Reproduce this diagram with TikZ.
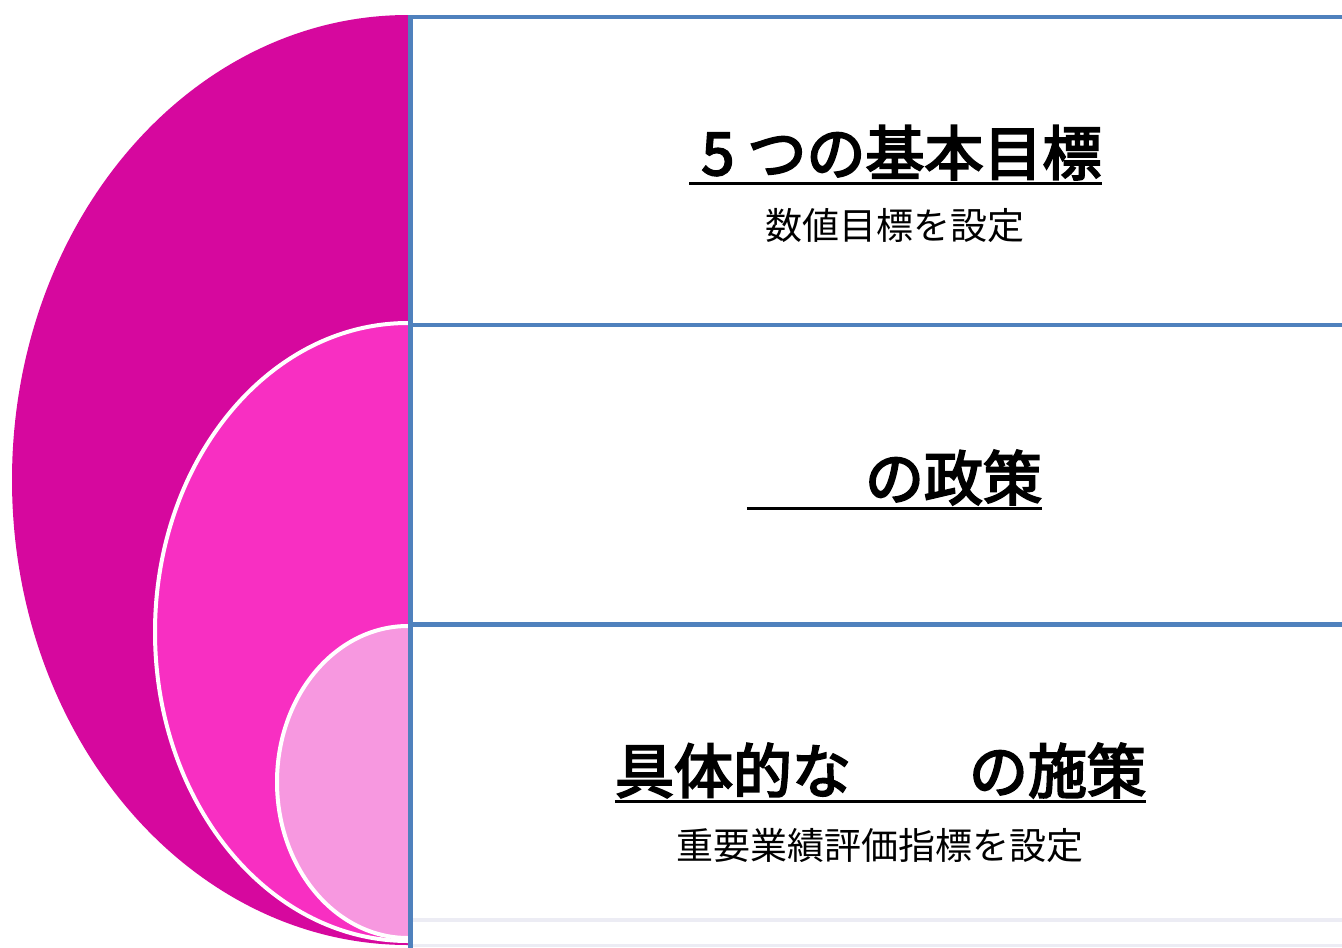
\documentclass[tikz,border=0pt]{standalone}
\usepackage{fontspec}
\newfontfamily\jp{Noto Sans CJK JP}
\newfontfamily\jpmed[FakeBold=3.5]{Noto Sans CJK JP}
\definecolor{outerpink}{RGB}{214,8,158}
\definecolor{midpink}{RGB}{248,47,194}
\definecolor{innerpink}{RGB}{247,152,224}
\definecolor{boxblue}{RGB}{79,129,189}
\definecolor{faint}{RGB}{236,236,244}
\tikzset{
  blueline/.style={draw=boxblue, line width=4.5pt},
  ringshape/.style={draw=white, line width=4pt},
  titletext/.style={inner sep=0pt, anchor=base, font=\jpmed\fontsize{59pt}{61pt}\selectfont},
  subtext/.style={inner sep=0pt, anchor=base, font=\jp\fontsize{37pt}{40pt}\selectfont},
  uline/.style={line width=3pt, black}
}
\begin{document}
\begin{tikzpicture}[x=1pt,y=1pt]
\useasboundingbox (0,0) rectangle (1342,-948);
\clip (0,0) rectangle (1342,-948);
\fill[white] (0,0) rectangle (1342,-948);
% nested half ellipses
\fill[outerpink] (408,-15) arc[start angle=90, end angle=270, x radius=396, y radius=465] -- cycle;
\path[fill=midpink, ringshape] (408,-323) arc[start angle=90, end angle=270, x radius=253, y radius=309];
\path[fill=innerpink, ringshape] (408,-626) arc[start angle=90, end angle=270, x radius=131, y radius=156];
% faint bottom lines
\draw[faint, line width=4pt] (413,-920) -- (1342,-920);
\draw[faint, line width=3pt] (413,-945.5) -- (1342,-945.5);
% blue boxes
\draw[blueline] (1345,-17) -- (410.5,-17) -- (410.5,-950);
\draw[blueline] (410.5,-325) -- (1345,-325);
\draw[blueline] (410.5,-624.5) -- (1345,-624.5);
% texts
\node[titletext] (t1) at (895.5,-175) {\hspace{12pt}5 つの基本目標};
\draw[uline] ([yshift=-8pt]t1.base west) -- ([yshift=-8pt]t1.base east);
\node[subtext] (s1) at (895,-239) {数値目標を設定};
\node[titletext] (t2) at (894.5,-500) {\hspace{2em}の政策};
\draw[uline] ([yshift=-8pt]t2.base west) -- ([yshift=-8pt]t2.base east);
\node[titletext] (t3) at (880.5,-793) {具体的な\hspace{2em}の施策};
\draw[uline] ([yshift=-8pt]t3.base west) -- ([yshift=-8pt]t3.base east);
\node[subtext] (s3) at (880,-859) {重要業績評価指標を設定};
\end{tikzpicture}
\end{document}
